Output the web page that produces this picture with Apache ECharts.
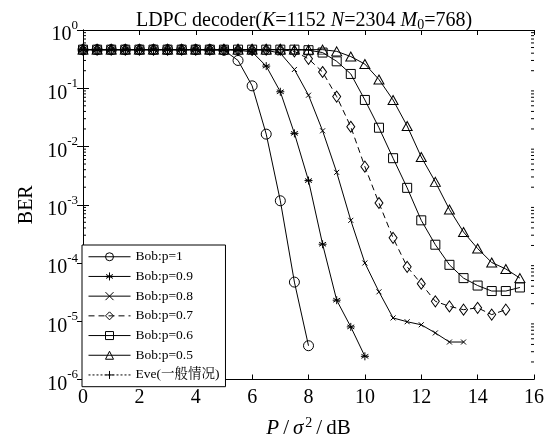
<!DOCTYPE html>
<html><head><meta charset="utf-8">
<script src="https://cdn.jsdelivr.net/npm/echarts@6/dist/echarts.min.js"></script>
<style>html,body{margin:0;padding:0;background:#fff}#c{width:555px;height:444px}</style>
</head><body><div id="c"></div>
<script>
// SNR grid (dB), shared by all series
const snrDb = [0,0.5,1,1.5,2,2.5,3,3.5,4,4.5,5,5.5,6,6.5,7,7.5,8,8.5,9,9.5,10,10.5,11,11.5,12,12.5,13,13.5,14,14.5,15,15.5];
const seriesNames = ['Bob:p=1','Bob:p=0.9','Bob:p=0.8','Bob:p=0.7','Bob:p=0.6','Bob:p=0.5','Eve(一般情况)'];
// BER values (index-aligned with snrDb)
const berP10 = [0.46,0.46,0.46,0.46,0.46,0.46,0.46,0.46,0.46,0.46,0.45,0.30,0.11,0.0163,1.17e-3,4.7e-5,3.8e-6];
const berP09 = [0.46,0.46,0.46,0.46,0.46,0.46,0.46,0.46,0.46,0.46,0.46,0.45,0.42,0.24,0.087,0.0168,2.6e-3,2.1e-4,2.3e-5,8e-6,2.5e-6];
const berP08 = [0.46,0.46,0.46,0.46,0.46,0.46,0.46,0.46,0.46,0.46,0.46,0.46,0.46,0.45,0.40,0.21,0.076,0.0186,3.6e-3,5.4e-4,1.0e-4,3.2e-5,1.14e-5,9.8e-6,8.7e-6,6.3e-6,4.4e-6,4.4e-6];
const berP07 = [0.46,0.46,0.46,0.46,0.46,0.46,0.46,0.46,0.46,0.46,0.46,0.46,0.46,0.46,0.46,0.43,0.32,0.19,0.072,0.0218,4.5e-3,1.07e-3,2.7e-4,8.6e-5,4.4e-5,2.2e-5,1.8e-5,1.58e-5,1.7e-5,1.3e-5,1.58e-5];
const berP06 = [0.46,0.46,0.46,0.46,0.46,0.46,0.46,0.46,0.46,0.46,0.46,0.46,0.46,0.46,0.46,0.46,0.45,0.41,0.29,0.176,0.063,0.021,6.3e-3,1.95e-3,5.4e-4,2.06e-4,9.3e-5,5.5e-5,4.1e-5,3.3e-5,3.3e-5,3.8e-5];
const berP05 = [0.46,0.46,0.46,0.46,0.46,0.46,0.46,0.46,0.46,0.46,0.46,0.46,0.46,0.46,0.46,0.46,0.46,0.46,0.43,0.35,0.26,0.141,0.063,0.0225,6.6e-3,2.47e-3,8.3e-4,3.4e-4,1.77e-4,1.02e-4,7.9e-5,5.5e-5];
const berEve = [0.46,0.46,0.46,0.46,0.46,0.46,0.46,0.46,0.46,0.46,0.46,0.46,0.46,0.46,0.46,0.46,0.46];
const xTicks = [0,2,4,6,8,10,12,14,16];
const yMin = 1e-6, yMax = 1;

const FONT = '"Liberation Serif","Times New Roman","Noto Serif CJK SC","Noto Sans CJK SC",serif';
const pairs = arr => arr.map((v,i)=>[snrDb[i], v]);

const symCircle = 'path://M10,5A5,5,0,1,1,0,5A5,5,0,1,1,10,5Z';
const symSquare = 'path://M0,0L10,0L10,10L0,10Z';
const symDiamond = 'path://M5,0L10,7L5,14L0,7Z';
const symTriangle = 'path://M5,0L10,9L0,9Z';
const symAsterisk = 'path://M5,0L5,10M0.67,2.5L9.33,7.5M0.67,7.5L9.33,2.5M0,5L10,5';
const symX = 'path://M0,0L10,10M0,10L10,0';
const symPlus = 'path://M5,0L5,10M0,5L10,5';

function lineSeries(name, data, symbol, size, lineType){
  return {
    name, type:'line', data: pairs(data), symbol, symbolSize: size,
    lineStyle:{color:'#000', width:1, type: lineType},
    itemStyle:{color:'rgba(255,255,255,0)', borderColor:'#000', borderWidth:1},
    emphasis:{disabled:true}, animation:false, z:3
  };
}

// minor log ticks (axis decoration)
const minorTickValues = [];
for (let e=-6; e<0; e++) for (let k=2;k<=9;k++) minorTickValues.push(k*Math.pow(10,e));

const chart = echarts.init(document.getElementById('c'), null, {renderer:'canvas'});
const axisLineStyle = {show:true, lineStyle:{color:'#000', width:1}};
chart.setOption({
  backgroundColor:'#fff',
  animation:false,
  textStyle:{fontFamily:FONT, color:'#000'},
  title:{
    text:'{n|LDPC decoder(}{i|K}{n|=1152 }{i|N}{n|=2304 }{i|M}{sub|0}{n|=768)}',
    left:299, top:4, textAlign:'center',
    textStyle:{fontWeight:'normal', rich:{
      n:{fontFamily:FONT, fontSize:20, fontWeight:'normal', color:'#000'},
      i:{fontFamily:FONT, fontSize:20, fontWeight:'normal', fontStyle:'italic', color:'#000'},
      sub:{fontFamily:FONT, fontSize:14, fontWeight:'normal', color:'#000', padding:[9,0,0,0]}
    }}
  },
  grid:{left:83, right:21, top:30, bottom:56, containLabel:false},
  legend:{
    orient:'vertical', left:82, top:245, width:130,
    data: seriesNames,
    backgroundColor:'#fff', borderColor:'#000', borderWidth:1,
    padding:[4,6,4,6], itemGap:4.2, itemWidth:42, itemHeight:10,
    lineStyle:{width:1},
    itemStyle:{borderWidth:1},
    textStyle:{fontFamily:FONT, fontSize:13.5, color:'#000', lineHeight:15.5},
    selectedMode:false
  },
  xAxis:[{
    type:'value', min:0, max:16, interval:2,
    axisLine:axisLineStyle,
    axisTick:{show:true, inside:true, length:5, lineStyle:{color:'#000'}},
    axisLabel:{fontFamily:FONT, fontSize:20, color:'#000', margin:8},
    splitLine:{show:false},
    name:'{i|P}{n|/}{i|σ}{sup|2}{n|/}{n|dB}', nameLocation:'middle', nameGap:37,
    nameTextStyle:{rich:{
      n:{fontFamily:FONT, fontSize:21, color:'#000', padding:[0,2,0,2]},
      i:{fontFamily:FONT, fontSize:21, fontStyle:'italic', color:'#000', padding:[0,2,0,2]},
      sup:{fontFamily:FONT, fontSize:14, color:'#000', padding:[0,2,10,0]}
    }}
  },{
    type:'value', min:0, max:16, interval:2, position:'top',
    axisLine:axisLineStyle,
    axisTick:{show:true, inside:true, length:5, lineStyle:{color:'#000'}},
    axisLabel:{show:false}, splitLine:{show:false}
  }],
  yAxis:[{
    type:'log', min:yMin, max:yMax, logBase:10,
    axisLine:axisLineStyle,
    axisTick:{show:true, inside:true, length:6, lineStyle:{color:'#000'}},
    splitLine:{show:false},
    axisLabel:{
      margin:5,
      formatter: v => '{b|10}{s|' + Math.round(Math.log10(v)) + '}',
      rich:{
        b:{fontFamily:FONT, fontSize:20, color:'#000', padding:[10,0,0,0]},
        s:{fontFamily:FONT, fontSize:13, color:'#000', padding:[0,0,9,0]}
      }
    },
    name:'BER', nameLocation:'middle', nameGap:45,
    nameTextStyle:{fontFamily:FONT, fontSize:20, color:'#000'}
  },{
    type:'log', min:yMin, max:yMax, logBase:10, position:'right',
    axisLine:axisLineStyle,
    axisTick:{show:true, inside:true, length:6, lineStyle:{color:'#000'}},
    splitLine:{show:false}, axisLabel:{show:false}
  }],
  series:[
    lineSeries(seriesNames[0], berP10, symCircle, 10, 'solid'),
    lineSeries(seriesNames[1], berP09, symAsterisk, 8, 'solid'),
    lineSeries(seriesNames[2], berP08, symX, 5, 'solid'),
    lineSeries(seriesNames[3], berP07, symDiamond, [8,11], [6,4]),
    lineSeries(seriesNames[4], berP06, symSquare, 9, 'solid'),
    lineSeries(seriesNames[5], berP05, symTriangle, [10,9], 'solid'),
    lineSeries(seriesNames[6], berEve, symPlus, 9, [2,2]),
    {
      type:'custom', silent:true, clip:false, z:2, animation:false,
      data: minorTickValues.map(v=>[0,v]),
      renderItem:(params, api)=>{
        const v = api.value(1);
        const pL = api.coord([0, v]);
        const pR = api.coord([16, v]);
        return {type:'group', children:[
          {type:'line', shape:{x1:pL[0], y1:pL[1], x2:pL[0]+3, y2:pL[1]}, style:{stroke:'#000', lineWidth:1}},
          {type:'line', shape:{x1:pR[0], y1:pR[1], x2:pR[0]-3, y2:pR[1]}, style:{stroke:'#000', lineWidth:1}}
        ]};
      }
    }
  ]
});
</script></body></html>
